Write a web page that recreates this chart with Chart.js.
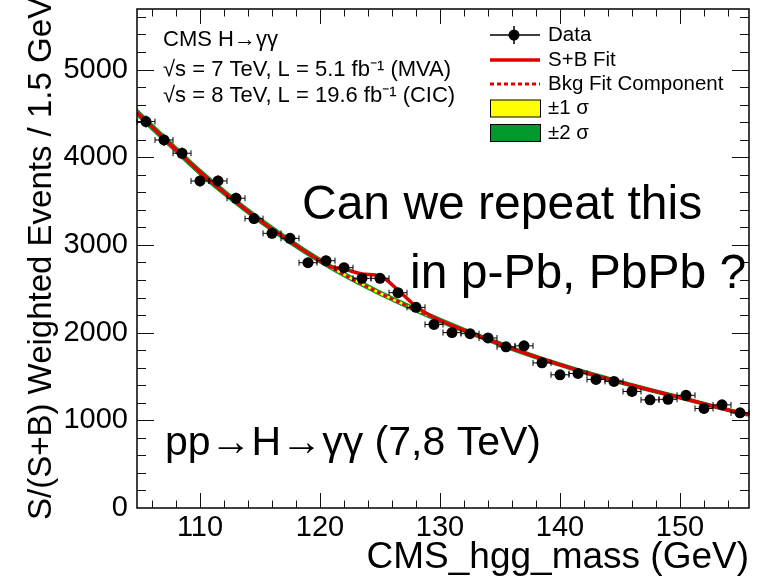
<!DOCTYPE html>
<html>
<head>
<meta charset="utf-8">
<script src="https://cdn.jsdelivr.net/npm/chart.js@4.4.0/dist/chart.umd.min.js"></script>
<style>
    html, body { margin: 0; padding: 0; background: #fff; }
    #wrap { width: 759px; height: 580px; }
</style>
</head>
<body>
<div id="wrap"><canvas id="massChart"></canvas></div>
<script>
// diphoton mass bins (GeV), S/(S+B) weighted events
var massBins = [105.5, 107, 108.5, 110, 111.5, 113, 114.5, 116, 117.5, 119,
                120.5, 122, 123.5, 125, 126.5, 128, 129.5, 131, 132.5, 134,
                135.5, 137, 138.5, 140, 141.5, 143, 144.5, 146, 147.5, 149,
                150.5, 152, 153.5, 155];
var dataEvents = [4406, 4197, 4045, 3729, 3729, 3532, 3300, 3132, 3075, 2797,
                  2820, 2740, 2619, 2619, 2455, 2288, 2093, 2000, 1988, 1939,
                  1838, 1849, 1655, 1519, 1534, 1466, 1443, 1329, 1233, 1239,
                  1285, 1135, 1176, 1085];
var dataErr = [70, 70, 68, 66, 66, 64, 62, 60, 60, 58,
               58, 56, 55, 55, 54, 52, 50, 50, 50, 48,
               47, 47, 45, 44, 44, 43, 43, 41, 40, 40,
               40, 38, 38, 37];
var binWidth = 1.5;

// background fit and its uncertainty
var fitMass = [104.75, 107.5, 110, 112.5, 115, 117.5, 120, 122.5, 125, 127.5,
               130, 132.5, 135, 137.5, 140, 142.5, 145, 147.5, 150, 152.5,
               155, 155.75];
var bkgFit = [4510, 4150, 3830, 3545, 3280, 3040, 2820, 2625, 2450, 2290,
              2140, 2000, 1870, 1745, 1635, 1530, 1435, 1345, 1260, 1170,
              1085, 1065];
var bkgSigma = [24, 23, 22, 21, 20, 19, 18, 17, 17, 16,
                16, 15, 15, 14, 14, 14, 13, 13, 13, 12,
                12, 12];

// signal + background fit
var sbMass = [104.75, 107.5, 110, 112.5, 115, 117.5, 120, 121, 122, 123.5,
              125, 126.5, 128, 129.5, 132.5, 135, 137.5, 140, 142.5, 145,
              147.5, 150, 152.5, 155, 155.75];
var sbFit = [4510, 4150, 3830, 3545, 3280, 3040, 2820, 2748, 2725, 2668,
             2645, 2485, 2300, 2172, 2000, 1870, 1745, 1635, 1530, 1435,
             1345, 1260, 1170, 1085, 1065];

var xTicks = [110, 120, 130, 140, 150];
var yTicks = [0, 1000, 2000, 3000, 4000, 5000];
var legendLabels = ['Data', 'S+B Fit', 'Bkg Fit Component', '±1 σ', '±2 σ'];
var infoLines = ['CMS H→γγ', '√s = 7 TeV, L = 5.1 fb⁻¹ (MVA)', '√s = 8 TeV, L = 19.6 fb⁻¹ (CIC)'];

var FONT = 'Liberation Sans, Arial, Helvetica, sans-serif';
var RED = '#e00000';
var YELLOW = '#ffff00';
var GREEN = '#00992a';

function band(k) {
    return fitMass.map(function(m, i) { return { x: m, y: bkgFit[i] + k * bkgSigma[i] }; });
}

// error bars are drawn just before the data markers
var errorBars = {
    id: 'errorBars',
    beforeDatasetDraw: function(chart, args) {
        if (args.index !== 6) return;
        var ctx = chart.ctx, xs = chart.scales.x, ys = chart.scales.y;
        ctx.save();
        ctx.strokeStyle = '#000';
        ctx.lineWidth = 1;
        massBins.forEach(function(m, i) {
            var x0 = xs.getPixelForValue(m - binWidth / 2);
            var x1 = xs.getPixelForValue(m + binWidth / 2);
            var y = ys.getPixelForValue(dataEvents[i]);
            var xc = xs.getPixelForValue(m);
            ctx.beginPath();
            ctx.moveTo(x0, y); ctx.lineTo(x1, y);
            ctx.moveTo(x0, y - 3); ctx.lineTo(x0, y + 3);
            ctx.moveTo(x1, y - 3); ctx.lineTo(x1, y + 3);
            ctx.moveTo(xc, ys.getPixelForValue(dataEvents[i] + dataErr[i]));
            ctx.lineTo(xc, ys.getPixelForValue(dataEvents[i] - dataErr[i]));
            ctx.stroke();
        });
        ctx.restore();
    }
};

// frame, inside ticks, legend and labels
var overlay = {
    id: 'overlay',
    afterDraw: function(chart) {
        var ctx = chart.ctx, a = chart.chartArea;
        var xs = chart.scales.x, ys = chart.scales.y;
        ctx.save();
        ctx.strokeStyle = '#111';
        ctx.lineWidth = 1;
        ctx.beginPath();
        for (var m = 106; m <= 155; m += 2) {
            var px = Math.round(xs.getPixelForValue(m)) + 0.5;
            var len = (m % 10 === 0) ? 15 : 7.5;
            ctx.moveTo(px, a.bottom); ctx.lineTo(px, a.bottom - len);
            ctx.moveTo(px, a.top); ctx.lineTo(px, a.top + len);
        }
        for (var v = 200; v < 5690; v += 200) {
            var py = Math.round(ys.getPixelForValue(v)) + 0.5;
            var ln = (v % 1000 === 0) ? 17 : 9;
            ctx.moveTo(a.left, py); ctx.lineTo(a.left + ln, py);
            ctx.moveTo(a.right, py); ctx.lineTo(a.right - ln, py);
        }
        ctx.stroke();

        ctx.lineWidth = 1.5;
        ctx.strokeStyle = '#000';
        ctx.strokeRect(a.left, a.top, a.right - a.left, a.bottom - a.top);

        // info text
        ctx.fillStyle = '#000';
        ctx.textBaseline = 'middle';
        ctx.textAlign = 'left';
        ctx.font = '22px ' + FONT;
        var infoY = [40, 70, 96];
        infoLines.forEach(function(t, i) { ctx.fillText(t, 163, infoY[i]); });

        // legend
        var rowY = [35, 60, 84, 108.5, 133];
        var ix0 = 490, ix1 = 540, ixc = 514;
        ctx.strokeStyle = '#000';
        ctx.lineWidth = 1.5;
        ctx.beginPath();
        ctx.moveTo(ix0, rowY[0]); ctx.lineTo(ix1, rowY[0]);
        ctx.moveTo(ixc, rowY[0] - 9); ctx.lineTo(ixc, rowY[0] + 9);
        ctx.stroke();
        ctx.beginPath();
        ctx.arc(ixc, rowY[0], 5.5, 0, Math.PI * 2);
        ctx.fill();

        ctx.strokeStyle = RED;
        ctx.lineWidth = 3.5;
        ctx.beginPath(); ctx.moveTo(ix0, rowY[1]); ctx.lineTo(ix1, rowY[1]); ctx.stroke();
        ctx.setLineDash([4, 3]);
        ctx.lineWidth = 3;
        ctx.beginPath(); ctx.moveTo(ix0, rowY[2]); ctx.lineTo(ix1, rowY[2]); ctx.stroke();
        ctx.setLineDash([]);

        ctx.lineWidth = 1;
        ctx.strokeStyle = '#000';
        ctx.fillStyle = YELLOW;
        ctx.fillRect(ix0, rowY[3] - 8.5, ix1 - ix0, 17);
        ctx.strokeRect(ix0 + 0.5, rowY[3] - 8.5, ix1 - ix0, 17);
        ctx.fillStyle = GREEN;
        ctx.fillRect(ix0, rowY[4] - 8.5, ix1 - ix0, 17);
        ctx.strokeRect(ix0 + 0.5, rowY[4] - 8.5, ix1 - ix0, 17);

        ctx.fillStyle = '#000';
        ctx.font = '20.5px ' + FONT;
        legendLabels.forEach(function(t, i) { ctx.fillText(t, 548, rowY[i]); });

        // big annotations
        ctx.textBaseline = 'alphabetic';
        ctx.font = '48px ' + FONT;
        ctx.fillText('Can we repeat this', 302, 219);
        ctx.fillText('in p-Pb, PbPb ?', 410, 288);
        ctx.font = '41px ' + FONT;
        ctx.fillText('pp→H→γγ (7,8 TeV)', 165, 455);
        ctx.restore();
    }
};

var ctx = document.getElementById('massChart').getContext('2d');
var massChart = new Chart(ctx, {
    type: 'line',
    data: {
        datasets: [
            { data: band(-2), borderWidth: 0, pointRadius: 0, fill: false, order: 4, cubicInterpolationMode: 'monotone' },
            { data: band(2), borderWidth: 0, pointRadius: 0, fill: '-1', backgroundColor: GREEN, order: 4, cubicInterpolationMode: 'monotone' },
            { data: band(-1), borderWidth: 0, pointRadius: 0, fill: false, order: 3, cubicInterpolationMode: 'monotone' },
            { data: band(1), borderWidth: 0, pointRadius: 0, fill: '-1', backgroundColor: YELLOW, order: 3, cubicInterpolationMode: 'monotone' },
            {
                label: 'Bkg Fit Component',
                data: fitMass.map(function(m, i) { return { x: m, y: bkgFit[i] }; }),
                borderColor: RED, borderWidth: 3, borderDash: [4, 3], pointRadius: 0,
                fill: false, order: 2, cubicInterpolationMode: 'monotone'
            },
            {
                label: 'S+B Fit',
                data: sbMass.map(function(m, i) { return { x: m, y: sbFit[i] }; }),
                borderColor: RED, borderWidth: 3.5, pointRadius: 0,
                fill: false, order: 1, cubicInterpolationMode: 'monotone'
            },
            {
                label: 'Data',
                data: massBins.map(function(m, i) { return { x: m, y: dataEvents[i] }; }),
                showLine: false, pointRadius: 5.5, pointBackgroundColor: '#000',
                pointBorderWidth: 0, order: 0
            }
        ]
    },
    options: {
        responsive: true,
        maintainAspectRatio: false,
        animation: false,
        layout: { padding: { left: 0, right: 10, top: 9, bottom: 0 } },
        plugins: { legend: { display: false }, tooltip: { enabled: false } },
        scales: {
            x: {
                type: 'linear', min: 104.75, max: 155.75,
                afterBuildTicks: function(s) { s.ticks = xTicks.map(function(v) { return { value: v }; }); },
                afterFit: function(s) { s.height = 72; s.paddingLeft = 0; s.paddingRight = 0; },
                grid: { display: false, drawTicks: false },
                border: { display: false },
                ticks: { color: '#000', padding: 3, maxRotation: 0, autoSkip: false, font: { family: FONT, size: 29 },
                         callback: function(v) { return String(v); } },
                title: { display: true, text: 'CMS_hgg_mass (GeV)', align: 'end', color: '#000',
                         font: { family: FONT, size: 37 }, padding: { top: 0, bottom: 0 } }
            },
            y: {
                type: 'linear', min: 0, max: 5690,
                afterBuildTicks: function(s) { s.ticks = yTicks.map(function(v) { return { value: v }; }); },
                afterFit: function(s) { s.width = 137; s.paddingTop = 0; s.paddingBottom = 0; },
                grid: { display: false, drawTicks: false },
                border: { display: false },
                ticks: { color: '#000', padding: 9, font: { family: FONT, size: 29 },
                         callback: function(v) { return String(v); } },
                title: { display: true, text: 'S/(S+B) Weighted Events / 1.5 GeV', color: '#000',
                         font: { family: FONT, size: 33 }, padding: { top: 22, bottom: 0 } }
            }
        }
    },
    plugins: [errorBars, overlay]
});
</script>
</body>
</html>
